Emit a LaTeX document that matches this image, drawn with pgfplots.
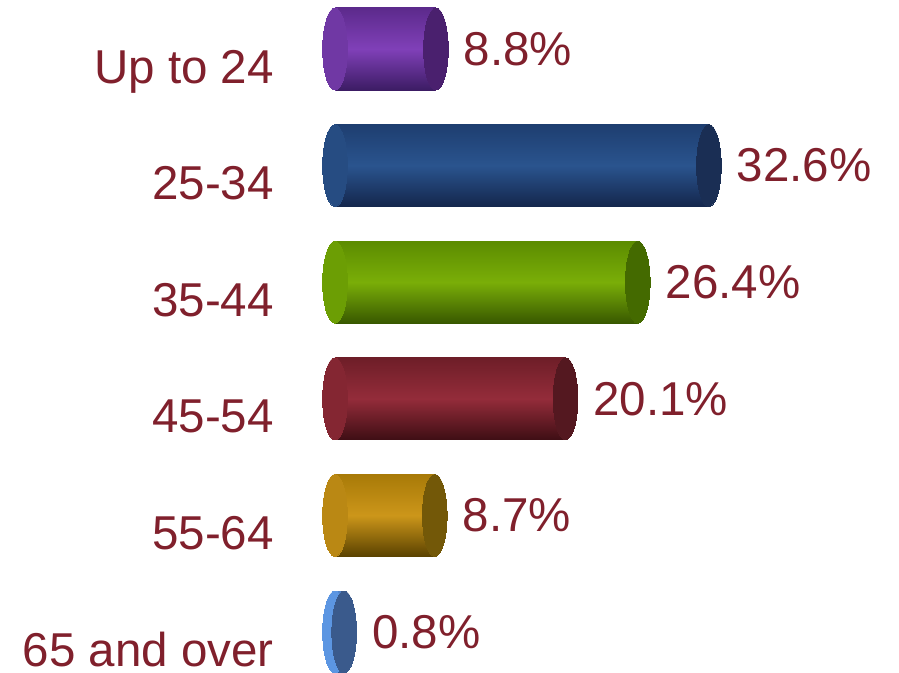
\documentclass[border=0pt]{standalone}
\usepackage{fontspec}
\setmainfont{Liberation Sans}
\usepackage{pgfplots}
\pgfplotsset{compat=1.18}
\definecolor{lab}{RGB}{128,32,44}
% purple
\definecolor{puM}{RGB}{128,64,184}\definecolor{puT}{RGB}{92,42,140}\definecolor{puB}{RGB}{60,28,100}\definecolor{puC}{RGB}{74,32,110}\definecolor{puL}{RGB}{112,56,164}
% blue
\definecolor{blM}{RGB}{42,84,142}\definecolor{blT}{RGB}{30,62,112}\definecolor{blB}{RGB}{20,38,76}\definecolor{blC}{RGB}{26,46,84}\definecolor{blL}{RGB}{38,76,130}
% green
\definecolor{grM}{RGB}{122,174,8}\definecolor{grT}{RGB}{92,140,0}\definecolor{grB}{RGB}{56,88,0}\definecolor{grC}{RGB}{68,106,0}\definecolor{grL}{RGB}{108,158,4}
% red
\definecolor{rdM}{RGB}{148,44,58}\definecolor{rdT}{RGB}{110,30,40}\definecolor{rdB}{RGB}{62,14,20}\definecolor{rdC}{RGB}{84,24,32}\definecolor{rdL}{RGB}{132,38,50}
% gold
\definecolor{goM}{RGB}{204,150,26}\definecolor{goT}{RGB}{168,122,8}\definecolor{goB}{RGB}{90,66,0}\definecolor{goC}{RGB}{115,88,8}\definecolor{goL}{RGB}{186,136,20}
% light blue
\definecolor{lbM}{RGB}{96,156,232}\definecolor{lbT}{RGB}{80,130,200}\definecolor{lbB}{RGB}{50,90,150}\definecolor{lbC}{RGB}{58,90,140}\definecolor{lbL}{RGB}{92,150,226}

\newcommand{\cyl}[7]{%
  \addplot[only marks, mark=*, mark size=41bp,
    mark options={xscale=0.3, draw=#7, fill=#7, line width=0pt}] coordinates {(0,#2)};
  \addplot[xbar, bar shift=0pt, bar width=82bp, draw=none,
    top color=#4, bottom color=#5, middle color=#3] coordinates {(#1,#2)};
  \addplot[only marks, mark=*, mark size=41bp,
    mark options={xscale=0.3, draw=#6, fill=#6, line width=0pt},
    point meta=x,
    nodes near coords={\pgfmathprintnumber{\pgfplotspointmeta}\%},
    every node near coord/.style={anchor=west, xshift=28bp, inner sep=0pt,
      text=lab, font=\fontsize{47.5bp}{56bp}\selectfont}] coordinates {(#1,#2)};
}

\begin{document}
\begin{tikzpicture}
\begin{axis}[
  scale only axis,
  width=899bp, height=673bp,
  xmin=-29.207, xmax=49.172,
  ymin=-0.4202, ymax=5.3516,
  y dir=reverse,
  clip=false,
  axis line style={draw=none},
  major tick length=0pt,
  xtick=\empty,
  ytick={0,1,2,3,4,5},
  yticklabels={Up to 24,25-34,35-44,45-54,55-64,\raisebox{0pt}[\height][0pt]{65 and over}},
  yticklabel style={anchor=base east, inner sep=0pt, xshift=274bp, yshift=-34bp,
    text=lab, font=\fontsize{47.5bp}{56bp}\selectfont},
  /pgf/number format/.cd, fixed, fixed zerofill, precision=1, assume math mode=true,
]
\cyl{8.8}{0}{puM}{puT}{puB}{puC}{puL}
\cyl{32.6}{1}{blM}{blT}{blB}{blC}{blL}
\cyl{26.4}{2}{grM}{grT}{grB}{grC}{grL}
\cyl{20.1}{3}{rdM}{rdT}{rdB}{rdC}{rdL}
\cyl{8.7}{4}{goM}{goT}{goB}{goC}{goL}
\cyl{0.8}{5}{lbM}{lbT}{lbB}{lbC}{lbL}
\end{axis}
\pgfresetboundingbox
\path (current axis.south west) rectangle (current axis.north east);
\end{tikzpicture}
\end{document}
